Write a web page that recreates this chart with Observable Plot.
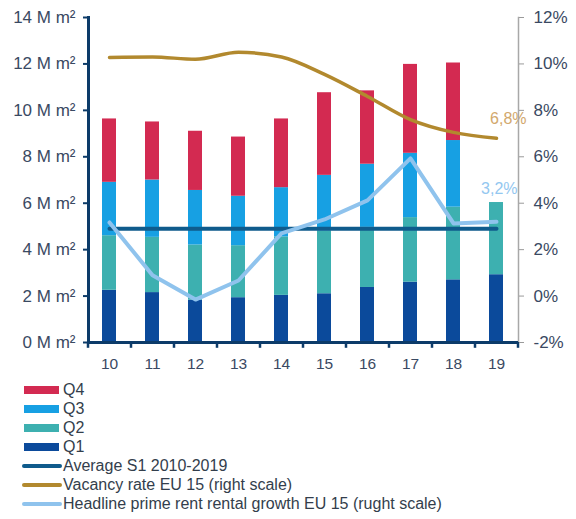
<!DOCTYPE html>
<html>
<head>
<meta charset="utf-8">
<script src="https://cdn.jsdelivr.net/npm/d3@7"></script>
<script src="https://cdn.jsdelivr.net/npm/@observablehq/plot@0.6"></script>
<style>
  html, body { margin: 0; padding: 0; background: #fff; }
  #chart svg { display: block; }
  .legend { margin-top: 8px; font-family: "Liberation Sans", Arial, sans-serif; font-size: 16px; color: #333e4c; }
  .row { display: flex; align-items: center; height: 19px; }
  .sw-rect { width: 35px; height: 8px; margin-left: 24px; margin-right: 4px; }
  .sw-line { width: 40px; height: 4px; border-radius: 2px; margin-left: 22px; margin-right: 1px; }
</style>
</head>
<body>
<div id="chart"></div>
<div class="legend" id="legend"></div>
<script>
const years = ["10","11","12","13","14","15","16","17","18","19"];
const quarters = ["Q1","Q2","Q3","Q4"];
// take-up per quarter, M m²
const q1 = [2.25, 2.15, 1.82, 1.93, 2.03, 2.10, 2.37, 2.60, 2.70, 2.92];
const q2 = [2.35, 2.38, 2.38, 2.24, 2.52, 2.70, 2.59, 2.78, 3.13, 3.11];
const q3 = [2.30, 2.47, 2.35, 2.13, 2.12, 2.40, 2.72, 2.77, 2.87, 0];
const q4 = [2.73, 2.50, 2.55, 2.55, 2.96, 3.56, 3.16, 3.83, 3.34, 0];
const avgS1 = 4.9;
// right scale, %
const vacancy = [10.28, 10.3, 10.2, 10.5, 10.3, 9.55, 8.6, 7.6, 7.05, 6.8];
const rent = [3.17, 0.9, -0.15, 0.67, 2.7, 3.3, 4.12, 5.93, 3.13, 3.2];
const leftTicks = [0, 2, 4, 6, 8, 10, 12, 14];
const rightTicks = [-2, 0, 2, 4, 6, 8, 10, 12];

const colors = {Q1: "#0b4a9b", Q2: "#3db0b0", Q3: "#17a0e3", Q4: "#d32a51"};
const avgColor = "#0f5b8c";
const vacColor = "#b2892e";
const rentColor = "#8fc3ed";
const navy = "#0c3b69";
const textColor = "#3a4962";

// right scale (%) shares the left scale: -2% ↔ 0 M m², 12% ↔ 14 M m²
const rightOffset = 2;
const toLeft = p => p + rightOffset;

const series = [q1, q2, q3, q4];
const bars = years.flatMap((yr, i) => quarters.map((q, j) => ({year: yr, q, v: series[j][i]})));
const avgRows = years.map(yr => ({year: yr, v: avgS1}));
const vacRows = years.map((yr, i) => ({year: yr, v: vacancy[i]}));
const rentRows = years.map((yr, i) => ({year: yr, v: rent[i]}));
const fmt = v => d3.format(".1f")(v).replace(".", ",") + "%";

const step = 43;

const chart = Plot.plot({
  width: 576,
  height: 372,
  marginTop: 17,
  marginBottom: 30,
  marginLeft: 88,
  marginRight: 58,
  style: {fontFamily: "'Liberation Sans', Arial, sans-serif", background: "#fff"},
  x: {type: "band", domain: years, paddingInner: 0.67, paddingOuter: 0.335, label: null},
  y: {domain: [0, 14], label: null},
  color: {domain: quarters, range: quarters.map(q => colors[q])},
  marks: [
    Plot.barY(bars, {x: "year", y: "v", fill: "q"}),
    Plot.lineY(avgRows, {x: "year", y: "v", stroke: avgColor, strokeWidth: 4}),
    Plot.lineY(vacRows, {x: "year", y: d => toLeft(d.v), stroke: vacColor, strokeWidth: 3.5, curve: "monotone-x"}),
    Plot.lineY(rentRows, {x: "year", y: d => toLeft(d.v), stroke: rentColor, strokeWidth: 4, strokeLinejoin: "round", strokeLinecap: "round"}),
    Plot.text([vacRows[vacRows.length - 1]], {x: "year", y: d => toLeft(d.v), text: d => fmt(d.v), textAnchor: "end", dx: 30, dy: -19, fill: "#d2a86c", fontSize: 16}),
    Plot.text([rentRows[rentRows.length - 1]], {x: "year", y: d => toLeft(d.v), text: d => fmt(d.v), textAnchor: "end", dx: 21, dy: -33, fill: "#93c7f0", fontSize: 16}),
    Plot.frame({anchor: "right", stroke: "#a8a8a8", strokeWidth: 1.5}),
    Plot.frame({anchor: "left", stroke: navy, strokeWidth: 3}),
    Plot.ruleY([0], {stroke: navy, strokeWidth: 3}),
    Plot.ruleX(years, {x: d => d, dx: -step / 2, y1: 0, y2: -0.25, stroke: navy, strokeWidth: 2.5}),
    Plot.ruleX([years[years.length - 1]], {x: d => d, dx: step / 2, y1: 0, y2: -0.25, stroke: navy, strokeWidth: 2.5}),
    Plot.axisY({anchor: "left", ticks: leftTicks, tickFormat: d => `${d} M m²`, tickSize: 5, tickPadding: 8, color: textColor, stroke: navy, strokeWidth: 2, fontSize: 17, label: null}),
    Plot.axisY({anchor: "right", ticks: rightTicks.map(toLeft), tickFormat: d => `${d - rightOffset}%`, tickSize: 5, tickPadding: 10, color: textColor, stroke: "#9a9a9a", strokeWidth: 1, fontSize: 17, label: null}),
    Plot.axisX({tickSize: 0, tickPadding: 15, color: textColor, fontSize: 15.5, label: null})
  ]
});
document.getElementById("chart").appendChild(chart);

const legendItems = [
  {label: "Q4", type: "rect", color: colors.Q4},
  {label: "Q3", type: "rect", color: colors.Q3},
  {label: "Q2", type: "rect", color: colors.Q2},
  {label: "Q1", type: "rect", color: colors.Q1},
  {label: "Average S1 2010-2019", type: "line", color: avgColor},
  {label: "Vacancy rate EU 15 (right scale)", type: "line", color: vacColor},
  {label: "Headline prime rent rental growth EU 15 (rught scale)", type: "line", color: rentColor}
];
const legend = d3.select("#legend");
for (const it of legendItems) {
  const row = legend.append("div").attr("class", "row");
  row.append("div").attr("class", it.type === "rect" ? "sw-rect" : "sw-line").style("background", it.color);
  row.append("span").text(it.label);
}
</script>
</body>
</html>
